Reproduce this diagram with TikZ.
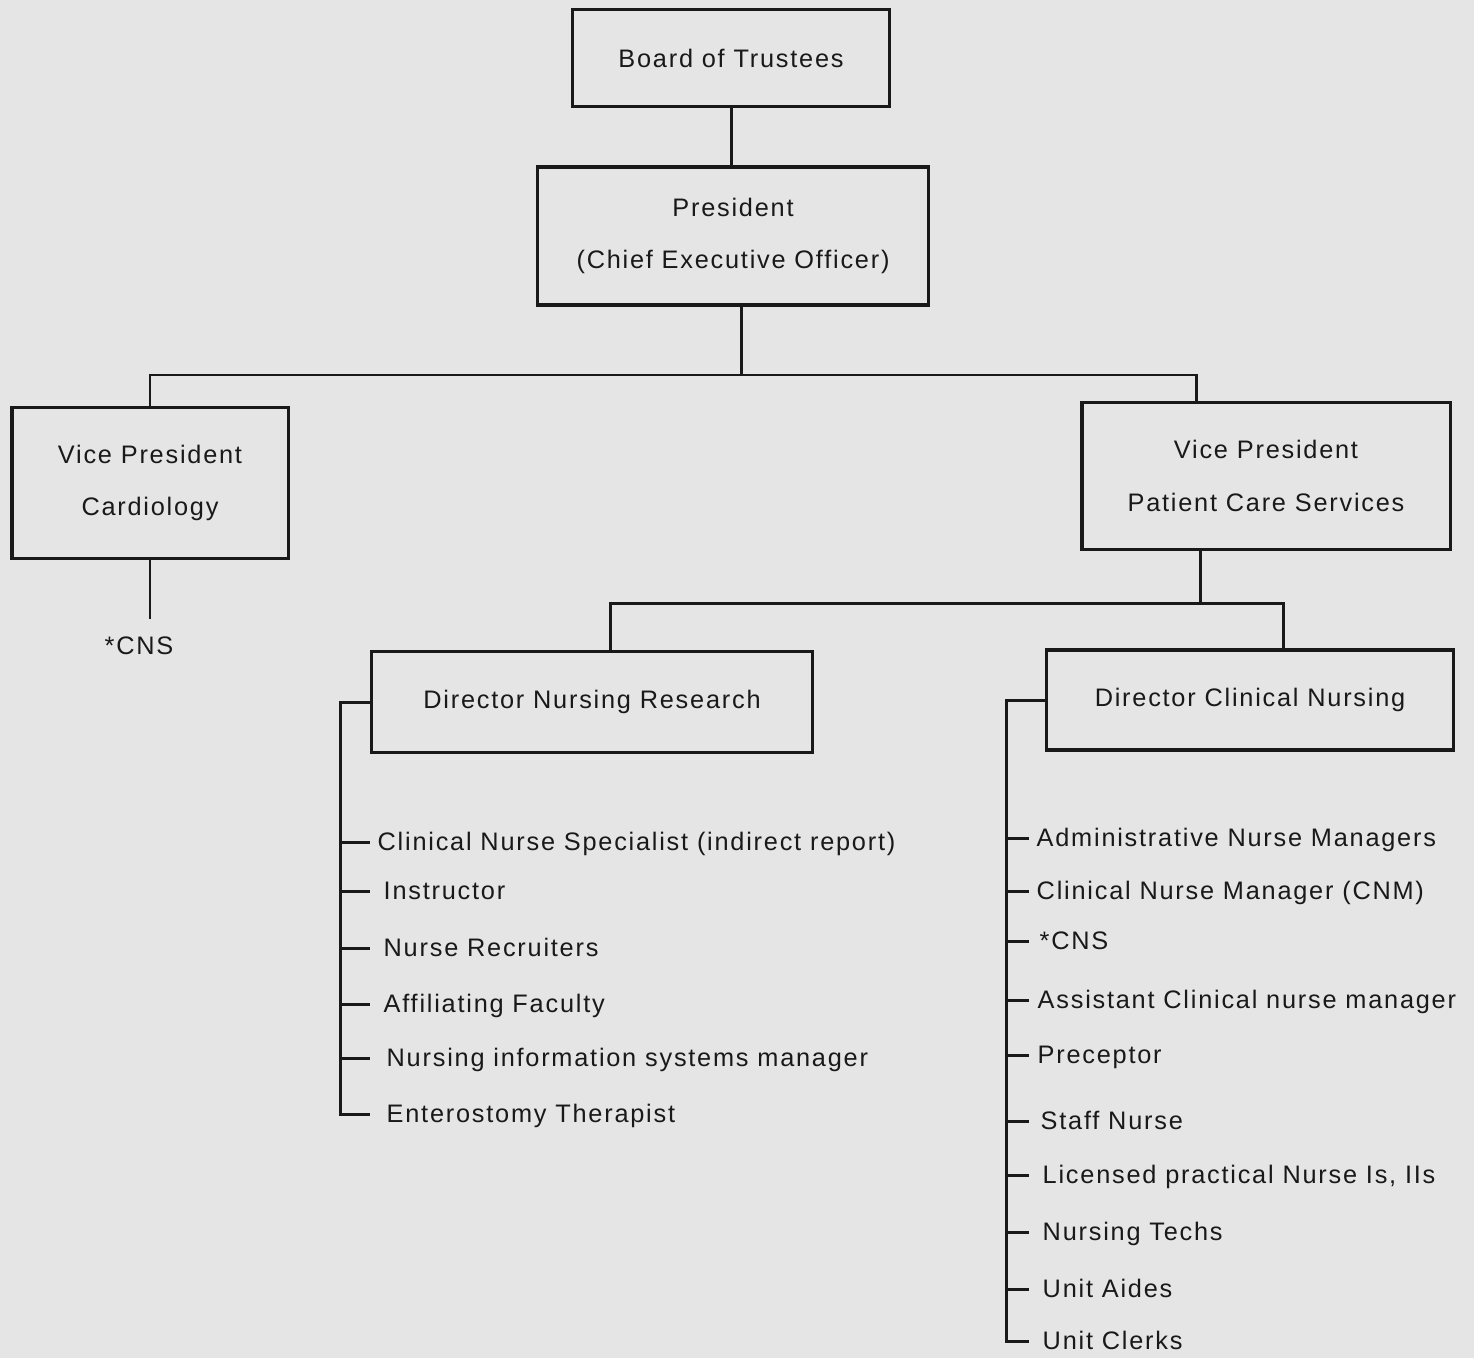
\documentclass[tikz,border=0pt]{standalone}
\usepackage{fontspec}
\setmainfont{Liberation Sans}[LetterSpace=7]
\usepackage{xcolor}
\usepackage{tikz}
\usetikzlibrary{positioning}

\definecolor{paper}{gray}{0.9}
\definecolor{ink}{gray}{0.1}

\tikzset{
	orgbox/.style={draw=ink, line width=0.9pt, align=center, inner sep=0pt, text=ink, font=\fontsize{7.2}{15}\selectfont},
	role/.style={anchor=west, inner ysep=0pt, inner xsep=0.13cm, text height=1.2ex, text depth=0.3ex, text=ink, font=\fontsize{7.2}{9}\selectfont},
	link/.style={draw=ink, line width=0.85pt}
}

\begin{document}
\begin{tikzpicture}[x=0.01cm, y=-0.01cm]
	\fill[paper] (0,0) rectangle (1474,1358);
	\useasboundingbox (0,0) rectangle (1474,1358);

	\node[orgbox, minimum width=3.17cm, minimum height=0.97cm] (board) at (731,58) {Board of Trustees};
	\node[orgbox, minimum width=3.91cm, minimum height=1.38cm] (president) at (733,236) {President\\(Chief Executive Officer)};
	\node[orgbox, minimum width=2.76cm, minimum height=1.51cm] (vpc) at (150,483) {Vice President\\Cardiology};
	\node[orgbox, minimum width=3.68cm, minimum height=1.47cm] (vpp) at (1266,476) {Vice President\\Patient Care Services};
	\node[orgbox, minimum width=4.41cm, minimum height=1.01cm] (dnr) at (592,702) {Director Nursing Research};
	\node[orgbox, minimum width=4.07cm, minimum height=1.00cm] (dcn) at (1250,700) {Director Clinical Nursing};

	\node[role, anchor=north, inner xsep=0pt, inner ysep=0.12cm] (cardcns) at (139,619) {*CNS};

	\node[role, inner xsep=0.07cm] (nr1) at (370,842) {Clinical Nurse Specialist (indirect report)};
	\node[role] (nr2) at (370,891) {Instructor};
	\node[role] (nr3) at (370,948) {Nurse Recruiters};
	\node[role] (nr4) at (370,1004) {Affiliating Faculty};
	\node[role, inner xsep=0.16cm] (nr5) at (370,1058) {Nursing information systems manager};
	\node[role, inner xsep=0.16cm] (nr6) at (370,1114) {Enterostomy Therapist};

	\node[role, inner xsep=0.07cm] (cn1) at (1029,838) {Administrative Nurse Managers};
	\node[role, inner xsep=0.07cm] (cn2) at (1029,891) {Clinical Nurse Manager (CNM)};
	\node[role, inner xsep=0.1cm] (cn3) at (1029,941) {*CNS};
	\node[role, inner xsep=0.08cm] (cn4) at (1029,1000) {Assistant Clinical nurse manager};
	\node[role, inner xsep=0.08cm] (cn5) at (1029,1055) {Preceptor};
	\node[role, inner xsep=0.11cm] (cn6) at (1029,1121) {Staff Nurse};
	\node[role] (cn7) at (1029,1175) {Licensed practical Nurse Is, IIs};
	\node[role] (cn8) at (1029,1232) {Nursing Techs};
	\node[role] (cn9) at (1029,1289) {Unit Aides};
	\node[role] (cn10) at (1029,1341) {Unit Clerks};

	\coordinate (split) at (741,375);
	\coordinate (split2) at (1200,603);
	\coordinate (nrtrunk) at (340,1114);
	\coordinate (cntrunk) at (1006,1341);

	\draw[link] (board.south) -- (board.south |- president.north);
	\draw[link] (president.south -| split) -- (split);
	\draw[link] (vpc.north) |- (split) -| ([xshift=-0.69cm]vpp.north);
	\draw[link] (vpc.south) -- (vpc.south |- cardcns.north);
	\draw[link] (vpp.south -| split2) -- (split2);
	\draw[link] ([xshift=0.18cm]dnr.north) |- (split2) -| ([xshift=0.33cm]dcn.north);

	\draw[link] (dnr.west) -| (nrtrunk) -- (nr6.west);
	\draw[link] (nrtrunk |- nr1.west) -- (nr1.west);
	\draw[link] (nrtrunk |- nr2.west) -- (nr2.west);
	\draw[link] (nrtrunk |- nr3.west) -- (nr3.west);
	\draw[link] (nrtrunk |- nr4.west) -- (nr4.west);
	\draw[link] (nrtrunk |- nr5.west) -- (nr5.west);

	\draw[link] (dcn.west) -| (cntrunk) -- (cn10.west);
	\draw[link] (cntrunk |- cn1.west) -- (cn1.west);
	\draw[link] (cntrunk |- cn2.west) -- (cn2.west);
	\draw[link] (cntrunk |- cn3.west) -- (cn3.west);
	\draw[link] (cntrunk |- cn4.west) -- (cn4.west);
	\draw[link] (cntrunk |- cn5.west) -- (cn5.west);
	\draw[link] (cntrunk |- cn6.west) -- (cn6.west);
	\draw[link] (cntrunk |- cn7.west) -- (cn7.west);
	\draw[link] (cntrunk |- cn8.west) -- (cn8.west);
	\draw[link] (cntrunk |- cn9.west) -- (cn9.west);
\end{tikzpicture}
\end{document}
